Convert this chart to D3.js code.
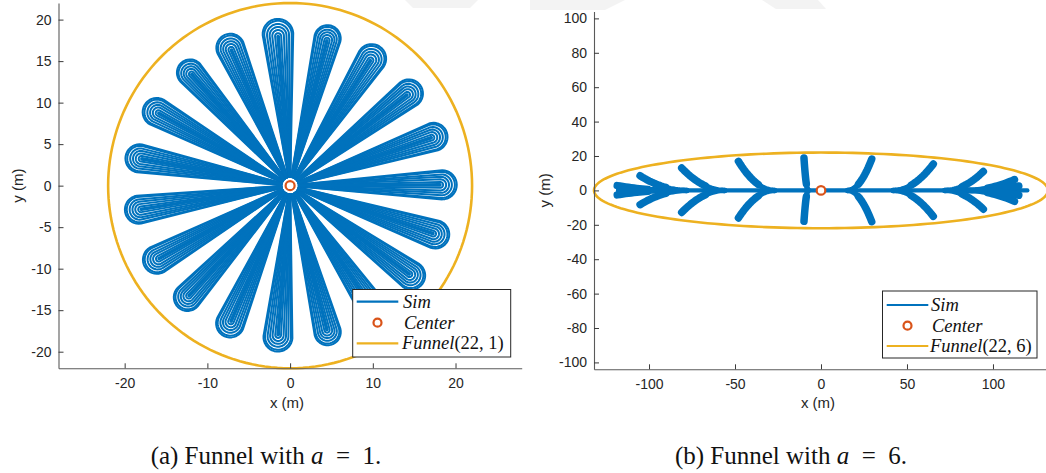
<!DOCTYPE html>
<html><head><meta charset="utf-8">
<script src="https://cdn.jsdelivr.net/npm/d3@7"></script>
<style>body{margin:0;background:#fff}svg{display:block}</style>
</head><body>
<svg id="c" width="1046" height="473"></svg>
<script>
// ---------- data ----------
const leftXTicks = [-20, -10, 0, 10, 20];
const leftYTicks = [-20, -15, -10, -5, 0, 5, 10, 15, 20];
const rightXTicks = [-100, -50, 0, 50, 100];
const rightYTicks = [-100, -80, -60, -40, -20, 0, 20, 40, 60, 80, 100];

// (a) petals: direction (deg), reach of the turning cap centre (m), cap radius (m)
const petalAngleDeg = [94.6, 75.7, 57.2, 37.7, 18.7, 0.3, -18.5, -36.5, -55.9, -75.6, -94.6, -113.6, -132.7, -151.0, -171.0, 169.8, 151.2, 131.6, 113.5];
const petalReach    = [18.3, 18.3, 18.2, 18.15, 18.3, 18.4, 18.5, 18.2, 17.8, 18.2, 18.3, 18.1, 18.3, 18.4, 18.5, 18.5, 18.4, 18.2, 18.1];
const petalCapRadius = [1.85, 1.6, 1.75, 1.7, 1.7, 1.75, 1.7, 1.7, 1.65, 1.6, 1.75, 1.7, 1.65, 1.7, 1.7, 1.7, 1.7, 1.6, 1.7];
const laneFraction = [1.0, 0.9, 0.72, 0.55, 0.38, 0.2, 0.06];

// (b) branches: root on x-axis, start tip (x, y)
const branchRootX = [-7.4, -7.4, 15.5, 15.5, -27, -27, 42, 42, -56, -56, 72, 72, -78, -78, -86, -86, -88, 84, 84, 86, 86];
const branchTipX  = [-9.9, -9.9, 29.5, 29.5, -48, -48, 65.3, 65.3, -81, -81, 94.4, 94.4, -105.2, -105.2, -118.5, -118.5, -117, 112.5, 112.5, 115, 115];
const branchTipY  = [18.8, -18.0, 18.2, -18.2, 16.9, -16.0, 15.3, -15.1, 13.0, -12.8, 11.0, -10.9, 8.5, -8.3, 2.8, -2.6, 0.2, 6.3, -6.4, 2.6, -2.8];
const trunkX = [-118, 120];

const funnelR = 22, funnelA1 = 1, funnelA6 = 6;

// ---------- helpers ----------
const svg = d3.select('#c');
const blue = '#0072BD', orange = '#D95319', gold = '#EDB120';
const tickFont = '"Liberation Sans", Arial, Helvetica, sans-serif';

// faint watermark shapes at the top of the page
const wm = [[[405, 0], [478, 0], [470, 8], [413, 8]], [[530, 0], [625, 0], [605, 10], [530, 10]], [[762, 0], [818, 0], [826, 9], [776, 9]]];
svg.append('g').selectAll('polygon').data(wm).join('polygon')
  .attr('points', d => d.map(p => p.join(',')).join(' ')).attr('fill', '#f3f3f3');

function drawAxes(g, x, y, xt, yt, xLabelX, yLabelX) {
  const fmt = d => String(d);
  const ax = g.append('g').attr('transform', `translate(0,${y.range()[0]})`)
    .call(d3.axisBottom(x).tickValues(xt).tickFormat(fmt).tickSize(-5).tickSizeOuter(0).tickPadding(10));
  const ay = g.append('g').attr('transform', `translate(${x.range()[0]},0)`)
    .call(d3.axisLeft(y).tickValues(yt).tickFormat(fmt).tickSize(-5).tickSizeOuter(0).tickPadding(7));
  [ax, ay].forEach(a => {
    a.select('.domain').attr('stroke', '#5a5a5a').attr('stroke-width', 1.1);
    a.selectAll('.tick line').attr('stroke', '#3a3a3a');
    a.selectAll('.tick text').attr('fill', '#262626').style('font-family', tickFont).style('font-size', '14px');
  });
  g.append('text').attr('x', xLabelX).attr('y', 408).attr('text-anchor', 'middle')
    .attr('fill', '#262626').style('font-family', tickFont).style('font-size', '15px').text('x (m)');
  const cy = (y.range()[0] + y.range()[1]) / 2;
  g.append('text').attr('transform', `translate(${yLabelX},${cy}) rotate(-90)`).attr('text-anchor', 'middle')
    .attr('fill', '#262626').style('font-family', tickFont).style('font-size', '15px').text('y (m)');
}

function funnelPoints(a) {
  return d3.range(0, 361, 2).map(t => [funnelR * a * Math.cos(t * Math.PI / 180), funnelR * Math.sin(t * Math.PI / 180)]);
}

function legend(g, x0, y0, w, h, rows, lineX0, lineX1, textX, label) {
  g.append('rect').attr('x', x0).attr('y', y0).attr('width', w).attr('height', h)
    .attr('fill', '#fff').attr('stroke', '#262626').attr('stroke-width', 1);
  g.append('line').attr('x1', lineX0).attr('x2', lineX1).attr('y1', rows[0]).attr('y2', rows[0]).attr('stroke', blue).attr('stroke-width', 2.2);
  g.append('circle').attr('cx', (lineX0 + lineX1) / 2).attr('cy', rows[1]).attr('r', 4).attr('fill', '#fff').attr('stroke', orange).attr('stroke-width', 2.2);
  g.append('line').attr('x1', lineX0).attr('x2', lineX1).attr('y1', rows[2]).attr('y2', rows[2]).attr('stroke', gold).attr('stroke-width', 2.2);
  const st = t => t.attr('fill', '#111').style('font-family', '"Liberation Serif", "Times New Roman", serif').style('font-size', '18.5px').style('font-style', 'italic');
  st(g.append('text').attr('x', textX).attr('y', rows[0] + 6)).text('Sim');
  st(g.append('text').attr('x', textX + 1).attr('y', rows[1] + 6)).text('Center');
  const f = st(g.append('text').attr('x', textX - 1).attr('y', rows[2] + 6));
  f.append('tspan').text('Funnel');
  f.append('tspan').style('font-style', 'normal').text(label);
}

// ---------- (a) ----------
const gA = svg.append('g');
const xL = d3.scaleLinear([-28, 28], [58.5, 521.7]);
const yL = d3.scaleLinear([-22, 22], [368.3, 3]);
const lineL = d3.line().x(d => xL(d[0])).y(d => yL(d[1]));

const r0 = 1.05;
const petalPaths = [];
petalAngleDeg.forEach((ang, i) => {
  const th = ang * Math.PI / 180, L = petalReach[i], W = petalCapRadius[i];
  const c = Math.cos(th), s = Math.sin(th);
  laneFraction.forEach((f, k) => {
    const hw = W * f, Lk = L - 0.05 * k;
    const pts = [[r0, -0.12 * f], [Lk, -hw]];
    d3.range(-90, 91, 10).forEach(a => {
      const t = a * Math.PI / 180;
      pts.push([Lk + hw * Math.cos(t), hw * Math.sin(t)]);
    });
    pts.push([Lk, hw], [r0, 0.12 * f]);
    petalPaths.push(pts.map(([u, v]) => [u * c - v * s, u * s + v * c]));
  });
});
gA.append('g').selectAll('path').data(petalPaths).join('path')
  .attr('d', lineL).attr('fill', 'none').attr('stroke', blue).attr('stroke-width', 2)
  .attr('stroke-linejoin', 'round').attr('stroke-linecap', 'round');
gA.append('circle').attr('cx', xL(0)).attr('cy', yL(0)).attr('r', 4.5).attr('fill', '#fff').attr('stroke', orange).attr('stroke-width', 2.2);
gA.append('path').attr('d', lineL(funnelPoints(funnelA1))).attr('fill', 'none').attr('stroke', gold).attr('stroke-width', 2.6);
drawAxes(gA, xL, yL, leftXTicks, leftYTicks, 287, 23);
legend(gA, 352.7, 289.5, 158, 67.5, [301.7, 322.7, 343.3], 356.7, 398.3, 403, '(22, 1)');

// ---------- (b) ----------
const gB = svg.append('g');
const xR = d3.scaleLinear([-132, 132], [594, 1048]);
const yR = d3.scaleLinear([-104, 104], [369.3, 11.5]);
const lineR = d3.line().x(d => xR(d[0])).y(d => yR(d[1]));
const branchPaths = branchRootX.map((rx, i) => {
  const tx = branchTipX[i], ty = branchTipY[i];
  return d3.range(0, 1.0001, 0.05).map(t => [rx + (tx - rx) * t, ty * t * t]);
});
gB.append('path').attr('d', lineR(trunkX.map(v => [v, 0]))).attr('fill', 'none').attr('stroke', blue).attr('stroke-width', 4.2).attr('stroke-linecap', 'round');
gB.append('g').selectAll('path').data(branchPaths).join('path')
  .attr('d', lineR).attr('fill', 'none').attr('stroke', blue).attr('stroke-width', 5.5)
  .attr('stroke-linecap', 'round').attr('stroke-linejoin', 'round');
gB.append('g').selectAll('path').data(branchPaths.map(p => p.slice(9))).join('path')
  .attr('d', lineR).attr('fill', 'none').attr('stroke', blue).attr('stroke-width', 7.5)
  .attr('stroke-linecap', 'round').attr('stroke-linejoin', 'round');
gB.append('circle').attr('cx', xR(0)).attr('cy', yR(0)).attr('r', 4.3).attr('fill', '#fff').attr('stroke', orange).attr('stroke-width', 2.2);
gB.append('path').attr('d', lineR(funnelPoints(funnelA6))).attr('fill', 'none').attr('stroke', gold).attr('stroke-width', 2.6);
drawAxes(gB, xR, yR, rightXTicks, rightYTicks, 818, 550);
legend(gB, 882.5, 291, 154.5, 67, [305, 325.7, 346], 886.7, 928.3, 931, '(22, 6)');

// ---------- captions ----------
function caption(cx, val, lab) {
  const t = svg.append('text').attr('x', cx).attr('y', 464).attr('text-anchor', 'middle')
    .attr('fill', '#111').style('font-family', '"Liberation Serif", "Times New Roman", serif').style('font-size', '25px');
  t.append('tspan').text(lab + ' Funnel with ');
  t.append('tspan').style('font-style', 'italic').text('a');
  t.append('tspan').text('\u2002=\u2002' + val + '.');
}
caption(266, '1', '(a)');
caption(791, '6', '(b)');
</script>
</body></html>
